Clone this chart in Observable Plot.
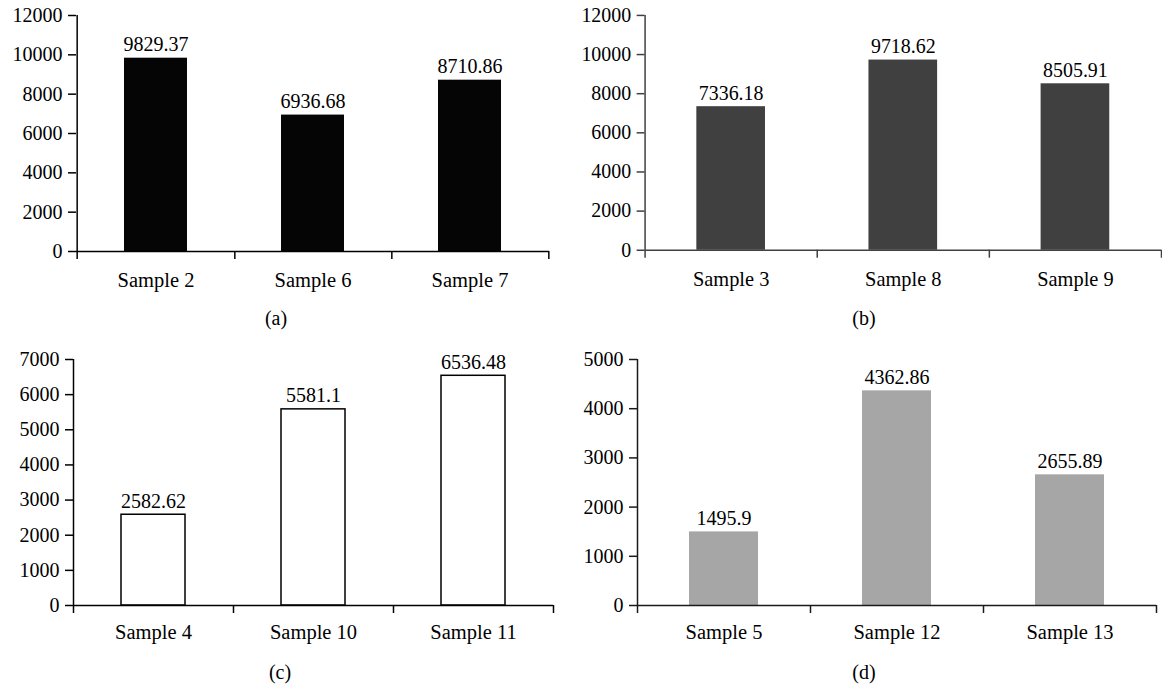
<!DOCTYPE html>
<html><head><meta charset="utf-8">
<script src="https://cdn.jsdelivr.net/npm/d3@7"></script>
<script src="https://cdn.jsdelivr.net/npm/@observablehq/plot@0.6"></script>
<style>
body{margin:0;background:#fff;}
#root{position:relative;width:1162px;height:688px;overflow:hidden;font-family:"Liberation Serif",serif;color:#000;}
#root svg, #root svg text{font-family:"Liberation Serif",serif !important;}
.panel{position:absolute;}
.cap{position:absolute;font-size:20px;line-height:20px;transform:translateX(-50%);white-space:nowrap;}
</style></head>
<body><div id="root"></div>
<script>
// Data
const samplesA = ["Sample 2", "Sample 6", "Sample 7"];
const valuesA = [9829.37, 6936.68, 8710.86];
const samplesB = ["Sample 3", "Sample 8", "Sample 9"];
const valuesB = [7336.18, 9718.62, 8505.91];
const samplesC = ["Sample 4", "Sample 10", "Sample 11"];
const valuesC = [2582.62, 5581.1, 6536.48];
const samplesD = ["Sample 5", "Sample 12", "Sample 13"];
const valuesD = [1495.9, 4362.86, 2655.89];
const ticksAB = [0, 2000, 4000, 6000, 8000, 10000, 12000];
const ticksC = [0, 1000, 2000, 3000, 4000, 5000, 6000, 7000];
const ticksD = [0, 1000, 2000, 3000, 4000, 5000];
const captions = ["(a)", "(b)", "(c)", "(d)"];

const root = document.getElementById("root");
const FONT = "Liberation Serif, serif";

function panel(o) {
  const data = o.cats.map((c, i) => ({cat: c, v: o.vals[i]}));
  const step = (o.width - o.ml - o.mr) / o.cats.length;
  const ax = o.axisColor;
  const chart = Plot.plot({
    width: o.width, height: o.height,
    marginLeft: o.ml, marginRight: o.mr, marginTop: o.mt, marginBottom: o.mb,
    style: "font-family: 'Liberation Serif', serif; font-size: 20px; color: #000; background: transparent; overflow: visible;",
    x: {domain: o.cats, paddingInner: 0.6, paddingOuter: 0.3, label: null, axis: null},
    y: {domain: [0, o.ticks[o.ticks.length - 1]], label: null, axis: null},
    marks: [
      Plot.barY(data, {x: "cat", y: "v", fill: o.fill, stroke: o.stroke, strokeWidth: 1.5}),
      Plot.ruleY([0], {stroke: ax, strokeWidth: 1.5}),
      Plot.ruleX([o.cats[0]], {dx: -step / 2, stroke: ax, strokeWidth: 1.5}),
      Plot.ruleX(o.cats, {dx: step / 2, y1: 0, y2: 0, insetBottom: -8, stroke: ax, strokeWidth: 1.5}),
      Plot.ruleX([o.cats[0]], {dx: -step / 2, y1: 0, y2: 0, insetBottom: -8, stroke: ax, strokeWidth: 1.5}),
      Plot.axisY({ticks: o.ticks, tickSize: 8, tickPadding: 6, tickFormat: d => String(d), stroke: ax, strokeWidth: 1.5, label: null, fontSize: 20, fontFamily: FONT}),
      Plot.axisX({tickSize: 0, tickPadding: o.tp, label: null, fontSize: 20.5, fontFamily: FONT}),
      Plot.text(data, {x: "cat", y: "v", text: d => String(d.v), dy: -7, lineAnchor: "bottom", fontSize: 20, fontFamily: FONT, fill: "#000"})
    ]
  });
  const div = document.createElement("div");
  div.className = "panel";
  div.style.left = o.left + "px";
  div.style.top = o.top + "px";
  div.appendChild(chart);
  root.appendChild(div);
  const cap = document.createElement("div");
  cap.className = "cap";
  cap.textContent = o.cap;
  cap.style.left = o.capX + "px";
  cap.style.top = o.capY + "px";
  root.appendChild(cap);
}

panel({cats: samplesA, vals: valuesA, ticks: ticksAB, fill: "#050505", stroke: "none", axisColor: "#000",
  left: 0, top: 0, width: 560, height: 300, ml: 76, mr: 11, mt: 15, mb: 49, tp: 21,
  cap: captions[0], capX: 276, capY: 308});
panel({cats: samplesB, vals: valuesB, ticks: ticksAB, fill: "#404040", stroke: "none", axisColor: "#404040",
  left: 560, top: 0, width: 605, height: 300, ml: 85, mr: 1, mt: 15, mb: 49, tp: 21,
  cap: captions[1], capX: 864, capY: 308});
panel({cats: samplesC, vals: valuesC, ticks: ticksC, fill: "#fff", stroke: "#000", axisColor: "#000",
  left: 0, top: 330, width: 560, height: 330, ml: 73, mr: 7, mt: 29, mb: 55, tp: 19,
  cap: captions[2], capX: 280, capY: 662});
panel({cats: samplesD, vals: valuesD, ticks: ticksD, fill: "#a6a6a6", stroke: "none", axisColor: "#1a1a1a",
  left: 560, top: 330, width: 602, height: 330, ml: 77, mr: 6, mt: 29, mb: 55, tp: 19,
  cap: captions[3], capX: 864, capY: 662});
</script>
</body></html>
